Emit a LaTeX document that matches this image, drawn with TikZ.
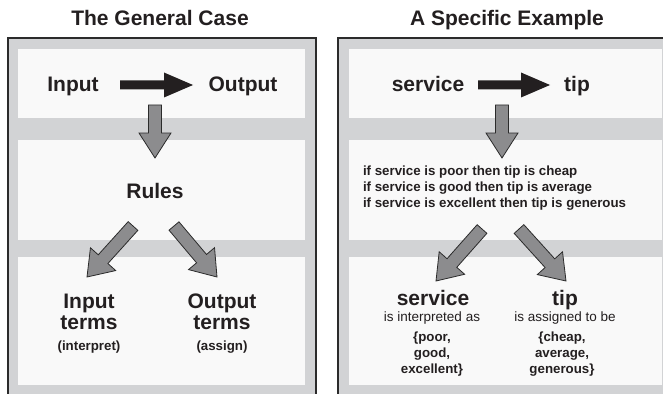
\documentclass[tikz,border=0pt]{standalone}
\usepackage{fontspec}
\setmainfont{Liberation Sans}
\usetikzlibrary{calc,positioning}
\definecolor{frame}{HTML}{D2D3D5}
\definecolor{pane}{HTML}{F9F9F9}
\definecolor{ink}{HTML}{231F20}
\definecolor{edge}{HTML}{2B2B2B}
\definecolor{arrowgrey}{HTML}{8C8C8E}
\newcommand{\blockarrow}[6]{%
  \coordinate (ba-base) at ($(#6)!#4!(#5)$);
  \path[#1] ($(#5)!#2!90:(#6)$) -- ($(ba-base)!#2!90:(#6)$) -- ($(ba-base)!#3!90:(#6)$) -- (#6)
    -- ($(ba-base)!#3!-90:(#6)$) -- ($(ba-base)!#2!-90:(#6)$) -- ($(#5)!#2!-90:(#6)$) -- cycle;}
\begin{document}
\begin{tikzpicture}[x=1pt, y=-1pt,
  every node/.style={inner sep=0pt, outer sep=0pt, text=ink},
  big/.style={font=\fontsize{21}{21}\selectfont\bfseries},
  small/.style={font=\fontsize{13.3}{16}\selectfont\bfseries},
  plain/.style={font=\fontsize{13.5}{16}\selectfont},
  casebox/.style={fill=frame, draw=edge, line width=2pt},
  panebox/.style={fill=pane},
  black arrow/.style={fill=ink},
  grey arrow/.style={fill=arrowgrey, draw=edge, line width=.8pt, line join=miter}]
\useasboundingbox (0,0) rectangle (663,393);
\clip (0,0) rectangle (663,393);
\fill[white] (0,0) rectangle (663,393);
\draw[casebox] (8,38) rectangle (316,410);
\draw[casebox] (338,38) rectangle (680,410);
\foreach \top/\bot in {49/118, 140/240, 257/385} {
  \fill[panebox] (18,\top) rectangle (305,\bot);
  \fill[panebox] (349,\top) rectangle (662,\bot);
}
\node[big, anchor=base] (gentitle) at (160,26) {The General Case};
\node[big, anchor=base] (spectitle) at (507,26) {A Specific Example};
\node[big, anchor=base] (in) at (73,92) {Input};
\node[big, anchor=base] (out) at (243,92) {Output};
\node[big, anchor=base] (rules) at (155,198) {Rules};
\node[big, anchor=base, align=center] (interms) at (89,329) {Input\\terms};
\node[big, anchor=base, align=center] (outterms) at (222,329) {Output\\terms};
\node[small, anchor=base] (interpret) at (89,350) {(interpret)};
\node[small, anchor=base] (assign) at (222,350) {(assign)};
\node[big, anchor=base] (service) at (428,92) {service};
\node[big, anchor=base] (tip) at (577,92) {tip};
\node[small, anchor=base west, align=left] (rulelist) at (363,207)
  {if service is poor then tip is cheap\\if service is good then tip is average\\if service is excellent then tip is generous};
\node[big, anchor=base] (svcterm) at (433,305) {service};
\node[plain, anchor=base] (svcnote) at (432,321) {is interpreted as};
\node[small, anchor=base, align=center] (svcset) at (432,373) {\{poor,\\good,\\excellent\}};
\node[big, anchor=base] (tipterm) at (565,305) {tip};
\node[plain, anchor=base] (tipnote) at (565,321) {is assigned to be};
\node[small, anchor=base, align=center] (tipset) at (562,373) {\{cheap,\\average,\\generous\}};
\coordinate (in-a) at (120,85);   \coordinate (out-a) at (193,85);
\coordinate (svc-a) at (478,85);  \coordinate (tip-a) at (550,85);
\coordinate (gen-d) at (155,105); \coordinate (rules-d) at (155,158);
\coordinate (spec-d) at (502,105); \coordinate (list-d) at (502,158);
\coordinate (rules-l) at (133,226); \coordinate (interms-a) at (87,277);
\coordinate (rules-r) at (174,226); \coordinate (outterms-a) at (217,277);
\coordinate (list-l) at (482,229); \coordinate (svcterm-a) at (436,281);
\coordinate (list-r) at (519,229); \coordinate (tipterm-a) at (566,281);
\blockarrow{black arrow}{4.5pt}{12.5pt}{29pt}{in-a}{out-a}
\blockarrow{black arrow}{4.5pt}{12.5pt}{29pt}{svc-a}{tip-a}
\blockarrow{grey arrow}{6.5pt}{16pt}{25pt}{gen-d}{rules-d}
\blockarrow{grey arrow}{6.5pt}{16pt}{25pt}{spec-d}{list-d}
\blockarrow{grey arrow}{6.5pt}{17pt}{24pt}{rules-l}{interms-a}
\blockarrow{grey arrow}{6.5pt}{17pt}{24pt}{rules-r}{outterms-a}
\blockarrow{grey arrow}{6.5pt}{17pt}{24pt}{list-l}{svcterm-a}
\blockarrow{grey arrow}{6.5pt}{17pt}{24pt}{list-r}{tipterm-a}
\end{tikzpicture}
\end{document}
